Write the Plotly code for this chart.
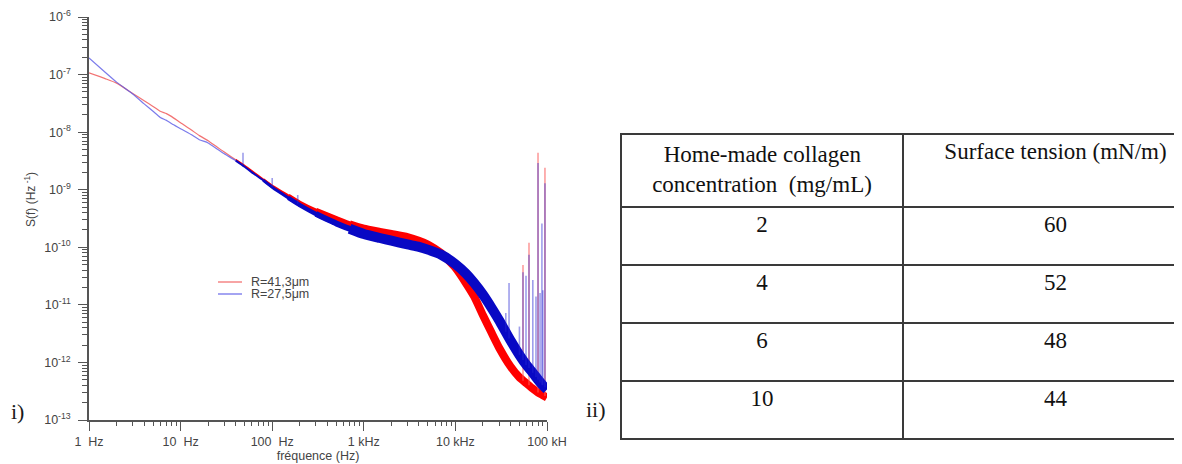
import plotly.graph_objects as go

# the page places the figure 8 px from the window's top-left corner
OFF = 8
WF, HF = 1200, 456


def px(X):
    return (X - OFF) / WF


def py(Y):
    return 1 - (Y - OFF) / HF


# ---------------- data ----------------
freq_hz = [1, 1.5, 2, 3, 4, 5, 6, 7, 8, 10, 13, 16, 20, 25, 30, 40, 50, 60, 80, 100,
           150, 200, 300, 500, 700, 1000, 1500, 2000, 3000, 4000, 5000, 7000,
           10000, 13000, 16000, 20000, 25000, 30000, 40000, 50000, 60000, 70000,
           80000, 90000, 100000]

s_red = [1.07e-7, 8.5e-8, 7.1e-8, 4.7e-8, 3.5e-8, 2.8e-8, 2.3e-8, 2.1e-8, 1.86e-8, 1.45e-8,
         1.1e-8, 8.7e-9, 7.1e-9, 5.5e-9, 4.5e-9, 3.3e-9, 2.6e-9, 2.1e-9, 1.5e-9, 1.15e-9,
         7.8e-10, 5.9e-10, 4.3e-10, 3.1e-10, 2.5e-10, 2.1e-10, 1.85e-10, 1.7e-10, 1.5e-10,
         1.3e-10, 1.12e-10, 7.9e-11, 4.4e-11, 2.4e-11, 1.4e-11, 6.6e-12, 3.2e-12, 1.8e-12,
         8.5e-13, 5.5e-13, 4.3e-13, 3.5e-13, 3.0e-13, 2.7e-13, 2.45e-13]

s_blue = [1.95e-7, 1.1e-7, 7.4e-8, 4.6e-8, 3.1e-8, 2.3e-8, 1.8e-8, 1.6e-8, 1.4e-8, 1.15e-8,
          9.1e-9, 7.4e-9, 6.5e-9, 5.1e-9, 4.2e-9, 3.2e-9, 2.5e-9, 2.0e-9, 1.45e-9, 1.1e-9,
          7.2e-10, 5.4e-10, 3.8e-10, 2.6e-10, 2.1e-10, 1.7e-10, 1.45e-10, 1.3e-10, 1.12e-10,
          1.02e-10, 9.1e-11, 7.4e-11, 5.1e-11, 3.5e-11, 2.4e-11, 1.5e-11, 8.7e-12, 5.4e-12,
          2.4e-12, 1.35e-12, 8.9e-13, 6.6e-13, 5.0e-13, 4.0e-13, 3.4e-13]

blue_spike_f = [48, 100, 190, 35500, 38500, 50000, 54700, 59000, 63600, 70000, 75800,
                79800, 84000, 88000, 90000, 95000]
blue_spike_base = [2.7e-9, 1.1e-9, 5.7e-10, 3.4e-12, 2.6e-12, 1.35e-12, 1.1e-12, 9e-13, 8e-13,
                   6.6e-13, 5.6e-13, 5e-13, 4.5e-13, 4.1e-13, 4e-13, 3.7e-13]
blue_spike_top = [4.4e-9, 1.6e-9, 8.1e-10, 7.2e-12, 2.4e-11, 4.2e-12, 3.7e-11, 3.2e-11, 7.4e-11,
                  2.7e-11, 1.4e-11, 2.9e-9, 1.6e-11, 2.6e-10, 1.8e-11, 1.3e-9]

red_spike_f = [54700, 63600, 79800, 95000]
red_spike_base = [4.8e-13, 4.0e-13, 3.0e-13, 2.6e-13]
red_spike_top = [4.9e-11, 1.2e-10, 4.4e-9, 2.4e-9]

x_tickvals = [1, 10, 100, 1000, 10000, 100000]
x_ticktext = ["1\u00a0\u00a0Hz", "10\u00a0\u00a0Hz", "100\u00a0\u00a0Hz", "1 kHz", "10 kHz", "100 kH"]
y_tickvals = [1e-13, 1e-12, 1e-11, 1e-10, 1e-9, 1e-8, 1e-7, 1e-6]
y_ticktext = ["10<sup>-13</sup>", "10<sup>-12</sup>", "10<sup>-11</sup>", "10<sup>-10</sup>",
              "10<sup>-9</sup>", "10<sup>-8</sup>", "10<sup>-7</sup>", "10<sup>-6</sup>"]

legend_names = ["R=41,3\u03bcm", "R=27,5\u03bcm"]

table_header = ["\u00a0\u00a0Home-made collagen<br>concentration\u00a0\u00a0(mg/mL)", "Surface tension (mN/m)"]
concentration = ["2", "4", "6", "10"]
surface_tension = ["60", "52", "48", "44"]

# ---------------- figure ----------------
fig = go.Figure()

# line segments of increasing thickness (noise band grows with frequency)
segments = [(0, 17, 1.2), (15, 20, 2.0), (18, 22, 3.0), (20, 24, 4.5), (22, 26, 6.0), (24, len(freq_hz), None)]


def add_series(vals, thin_col, full_col, thick_w):
    for i0, i1, w in segments:
        if w is None:
            w = thick_w
        col = thin_col if w < 1.5 else full_col
        fig.add_trace(go.Scatter(x=freq_hz[i0:i1], y=vals[i0:i1], mode="lines",
                                 line=dict(color=col, width=w, shape="spline", smoothing=0.5),
                                 showlegend=False, hoverinfo="skip"))


def spike_xy(fs, base, top):
    xs, ys = [], []
    for f, b, t in zip(fs, base, top):
        xs += [f, f, None]
        ys += [b, t, None]
    return xs, ys


add_series(s_red, "rgba(240,90,90,0.85)", "#ff0000", 8)
rx, ry = spike_xy(red_spike_f, red_spike_base, red_spike_top)
fig.add_trace(go.Scatter(x=rx, y=ry, mode="lines", line=dict(color="rgba(250,90,90,0.6)", width=1.6),
                         showlegend=False, hoverinfo="skip"))

add_series(s_blue, "rgba(90,90,230,0.8)", "#0808c4", 10)
bx, by = spike_xy(blue_spike_f, blue_spike_base, blue_spike_top)
fig.add_trace(go.Scatter(x=bx, y=by, mode="lines", line=dict(color="rgba(40,40,210,0.45)", width=1.6),
                         showlegend=False, hoverinfo="skip"))

# table
fig.add_trace(go.Table(
    domain=dict(x=[px(621), 1.0], y=[py(441), py(134)]),
    columnwidth=[282, 305],
    header=dict(values=table_header, align="center", height=73,
                font=dict(family="Liberation Serif", size=23, color="#111"),
                line=dict(color="#3a3a3a", width=2), fill_color="white"),
    cells=dict(values=[concentration, surface_tension], align="center", height=58,
               font=dict(family="Liberation Serif", size=23, color="#111"),
               line=dict(color="#3a3a3a", width=2), fill_color="white"),
))

axis_font = dict(family="Liberation Sans, Arial", size=12.5, color="#444")

fig.update_layout(
    width=WF, height=HF, autosize=False,
    margin=dict(l=0, r=0, t=0, b=0, autoexpand=False),
    paper_bgcolor="white", plot_bgcolor="white",
    showlegend=False,
    xaxis=dict(type="log", range=[0, 5], domain=[px(89), px(547)],
               tickvals=x_tickvals, ticktext=x_ticktext, tickfont=axis_font,
               ticks="outside", ticklen=9, tickwidth=1.2, tickcolor="#555",
               minor=dict(ticks="outside", ticklen=4, tickcolor="#555", dtick="D1", showgrid=False),
               showline=True, linecolor="#555", linewidth=1.5, showgrid=False, zeroline=False,
               automargin=False,
               title=dict(text="fr\u00e9quence (Hz)", font=axis_font, standoff=0)),
    yaxis=dict(type="log", range=[-13, -6], domain=[py(420), py(17)],
               tickvals=y_tickvals, ticktext=y_ticktext, tickfont=axis_font,
               ticks="outside", ticklen=9, tickwidth=1.2, tickcolor="#555",
               minor=dict(ticks="outside", ticklen=5, tickcolor="#555", dtick="D1", showgrid=False),
               showline=True, linecolor="#555", linewidth=1.5, showgrid=False, zeroline=False,
               automargin=False, ticklabelstandoff=5),
)

# legend drawn by hand (compact, like the original)
leg_cols = ["rgba(240,90,90,0.85)", "rgba(90,90,230,0.85)"]
for k, (name, col) in enumerate(zip(legend_names, leg_cols)):
    yy = py(282 + 12 * k)
    fig.add_shape(type="line", xref="paper", yref="paper", x0=px(218), x1=px(242), y0=yy, y1=yy,
                  line=dict(color=col, width=1.3))
    fig.add_annotation(xref="paper", yref="paper", x=px(249), y=yy, text=name, showarrow=False,
                       xanchor="left", yanchor="middle",
                       font=dict(family="Liberation Sans, Arial", size=12.5, color="#444"))

# y-axis title
fig.add_annotation(xref="paper", yref="paper", x=px(30), y=py(200), text="S(f) (Hz<sup> -1</sup>)",
                   textangle=-90, showarrow=False, xanchor="center", yanchor="middle",
                   font=dict(family="Liberation Sans, Arial", size=12, color="#444"))

# panel labels
fig.add_annotation(xref="paper", yref="paper", x=px(17), y=py(411), text="i)", showarrow=False,
                   xanchor="center", yanchor="middle", font=dict(family="Liberation Serif", size=22, color="#1a1a1a"))
fig.add_annotation(xref="paper", yref="paper", x=px(596), y=py(409), text="ii)", showarrow=False,
                   xanchor="center", yanchor="middle", font=dict(family="Liberation Serif", size=22, color="#1a1a1a"))

fig.write_html("out.html")
